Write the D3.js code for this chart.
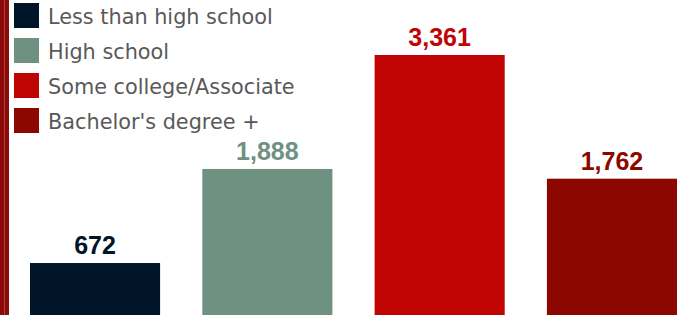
<!DOCTYPE html>
<html><head><meta charset="utf-8">
<script src="https://cdn.jsdelivr.net/npm/d3@7"></script>
<style>html,body{margin:0;padding:0;background:#fff;overflow:hidden}</style>
</head><body><svg id="c" width="679" height="315"></svg>
<script>
const categories = ["Less than high school", "High school", "Some college/Associate", "Bachelor's degree +"];
const values = [672, 1888, 3361, 1762];
const colors = ["#001528", "#6f9182", "#c00404", "#8c0700"];

const svg = d3.select("#c");
const W = 679, H = 315;

// left edge strip
svg.append("rect").attr("x", 0).attr("y", 0).attr("width", 9).attr("height", H).attr("fill", "#8c0a0a");
svg.append("rect").attr("x", 4).attr("y", 0).attr("width", 1).attr("height", H).attr("fill", "#b04040");

const x = d3.scaleBand().domain(categories).range([30, 677]).paddingInner(0.245).paddingOuter(0);
const y = d3.scaleLinear().domain([0, 3361]).range([H, 55]);

svg.selectAll("rect.bar").data(values).enter().append("rect")
  .attr("class", "bar")
  .attr("x", (d, i) => x(categories[i]))
  .attr("y", d => y(d))
  .attr("width", x.bandwidth())
  .attr("height", d => H - y(d))
  .attr("fill", (d, i) => colors[i]);

svg.selectAll("text.val").data(values).enter().append("text")
  .attr("class", "val")
  .attr("x", (d, i) => x(categories[i]) + x.bandwidth() / 2)
  .attr("y", d => y(d) - 9)
  .attr("text-anchor", "middle")
  .attr("font-family", "Liberation Sans, Arial, sans-serif")
  .attr("font-weight", "bold")
  .attr("font-size", 25)
  .attr("fill", (d, i) => colors[i])
  .text(d => d3.format(",")(d));

const lg = svg.append("g");
categories.forEach((c, i) => {
  lg.append("rect").attr("x", 14).attr("y", 3 + i * 35).attr("width", 25).attr("height", 25).attr("fill", colors[i]);
  lg.append("text").attr("x", 48).attr("y", 24 + i * 35)
    .attr("font-family", "DejaVu Sans, Verdana, sans-serif")
    .attr("font-size", 20.8)
    .attr("fill", "#595959")
    .text(c);
});
</script></body></html>
